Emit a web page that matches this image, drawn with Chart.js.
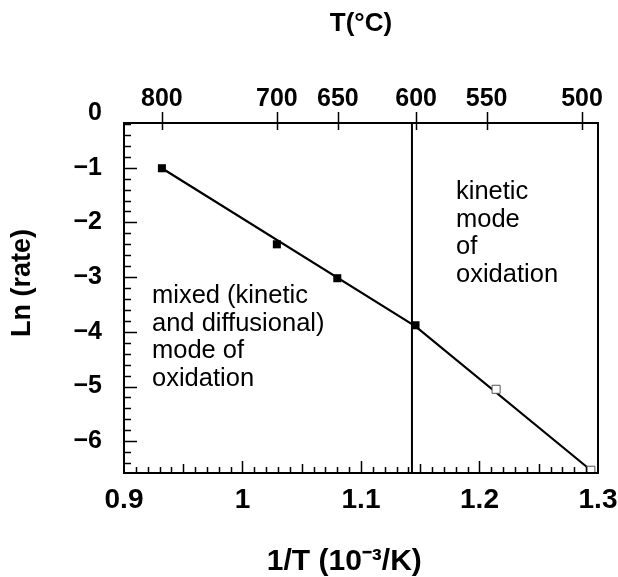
<!DOCTYPE html>
<html>
<head>
<meta charset="utf-8">
<script src="https://cdn.jsdelivr.net/npm/chart.js@4.4.1/dist/chart.umd.min.js"></script>
<style>
  html, body { margin: 0; padding: 0; background: #fff; }
  #wrap { width: 618px; height: 577px; }
</style>
</head>
<body>
<div id="wrap"><canvas id="chart" width="618" height="577"></canvas></div>
<script>
// values
const tempLabels = [800, 700, 650, 600, 550, 500];                 // top axis, T in deg C
const tempTickX = [0.932, 1.029, 1.0805, 1.1465, 1.206, 1.2865];  // where the figure puts them on 1/T
const xTicks = [0.9, 1.0, 1.1, 1.2, 1.3];
const yTicks = [0, -1, -2, -3, -4, -5, -6];
const xMin = 0.9, xMax = 1.3;
const yMin = -6.58, yMax = -0.183;

// mixed (kinetic + diffusional) regime: filled squares
const mixedX = [0.932, 1.029, 1.080, 1.146];
const mixedY = [-1.01, -2.40, -3.02, -3.88];
// kinetic regime: open squares
const kineticX = [1.214, 1.294];
const kineticY = [-5.05, -6.53];
// fitted line (two segments, kink at the regime boundary)
const fitX = [0.932, 1.146, 1.294];
const fitY = [-1.01, -3.90, -6.53];
// regime boundary
const boundaryX = 1.143;

const FONT = "'Liberation Sans', Arial, sans-serif";

const toPts = (xs, ys) => xs.map((x, i) => ({ x: x, y: ys[i] }));

// frame, inward ticks and the two text notes
const decor = {
  id: 'decor',
  afterDraw(chart) {
    const ctx = chart.ctx;
    const a = chart.chartArea;
    const sx = chart.scales.x, sy = chart.scales.y, st = chart.scales.x2;
    ctx.save();
    ctx.strokeStyle = '#000';
    ctx.lineWidth = 2;
    ctx.strokeRect(a.left, a.top, a.right - a.left, a.bottom - a.top);

    ctx.lineWidth = 1.5;
    ctx.beginPath();
    // bottom axis, every 0.01
    for (let k = 91; k < 130; k++) {
      const px = Math.round(sx.getPixelForValue(k / 100)) + 0.5;
      const len = k % 10 === 0 ? 12 : (k % 5 === 0 ? 9 : 6);
      ctx.moveTo(px, a.bottom);
      ctx.lineTo(px, a.bottom - len);
    }
    // left axis, every 0.2
    for (let k = -32; k <= -1; k++) {
      const py = Math.round(sy.getPixelForValue(k / 5)) + 0.5;
      if (py <= a.top + 1) continue;
      const len = k % 5 === 0 ? 13 : 7;
      ctx.moveTo(a.left, py);
      ctx.lineTo(a.left + len, py);
    }
    // top axis, temperature ticks cross the line
    tempTickX.forEach(v => {
      const px = Math.round(st.getPixelForValue(v)) + 0.5;
      ctx.moveTo(px, a.top - 11);
      ctx.lineTo(px, a.top + 7);
    });
    ctx.stroke();

    ctx.fillStyle = '#000';
    ctx.font = '25.5px ' + FONT;
    ctx.textBaseline = 'alphabetic';
    ctx.textAlign = 'left';
    const lh = 27.7;
    ['mixed (kinetic', 'and diffusional)', 'mode of', 'oxidation'].forEach((s, i) => {
      ctx.fillText(s, a.left + 28, 303 + i * lh);
    });
    ['kinetic', 'mode', 'of', 'oxidation'].forEach((s, i) => {
      ctx.fillText(s, a.left + 332, 199 + i * lh);
    });
    ctx.restore();
  }
};

new Chart(document.getElementById('chart'), {
  type: 'scatter',
  data: {
    datasets: [
      {
        data: toPts(mixedX, mixedY),
        pointStyle: 'rect',
        pointRadius: 5.7,
        pointBackgroundColor: '#000',
        pointBorderColor: '#000',
        pointBorderWidth: 0,
        showLine: false
      },
      {
        data: toPts(kineticX, kineticY),
        pointStyle: 'rect',
        pointRadius: 5.7,
        pointBackgroundColor: '#fff',
        pointBorderColor: '#555',
        pointBorderWidth: 1,
        showLine: false
      },
      {
        data: toPts(fitX, fitY),
        showLine: true,
        borderColor: '#000',
        borderWidth: 2.2,
        pointRadius: 0,
        tension: 0
      },
      {
        data: [{ x: boundaryX, y: yMax }, { x: boundaryX, y: yMin }],
        showLine: true,
        borderColor: '#000',
        borderWidth: 2,
        pointRadius: 0
      }
    ]
  },
  options: {
    responsive: false,
    animation: false,
    layout: { padding: { left: 0, right: 20, top: 0, bottom: 0 } },
    plugins: {
      legend: { display: false },
      tooltip: { enabled: false }
    },
    scales: {
      x: {
        type: 'linear',
        position: 'bottom',
        min: xMin,
        max: xMax,
        afterBuildTicks: s => { s.ticks = xTicks.map(v => ({ value: v })); },
        afterFit: s => { s.height = 104; s.paddingLeft = 0; s.paddingRight = 0; },
        grid: { display: false },
        border: { display: false },
        ticks: {
          color: '#000',
          font: { family: FONT, size: 28, weight: 'bold' },
          padding: 2,
          autoSkip: false,
          maxRotation: 0,
          callback: v => String(v)
        },
        title: {
          display: true,
          text: '1/T (10\u207B\u00B3/K)    ',
          color: '#000',
          font: { family: FONT, size: 30, weight: 'bold', lineHeight: 1 },
          padding: { top: 0, bottom: 0 }
        }
      },
      x2: {
        type: 'linear',
        position: 'top',
        min: xMin,
        max: xMax,
        afterBuildTicks: s => { s.ticks = tempTickX.map(v => ({ value: v })); },
        afterFit: s => { s.height = 123; s.paddingLeft = 0; s.paddingRight = 0; },
        grid: { display: false },
        border: { display: false },
        ticks: {
          color: '#000',
          font: { family: FONT, size: 25, weight: 'bold' },
          padding: 1,
          autoSkip: false,
          maxRotation: 0,
          callback: (v, i) => String(tempLabels[i])
        },
        title: {
          display: true,
          text: 'T(\u00B0C)',
          color: '#000',
          font: { family: FONT, size: 26, weight: 'bold' },
          padding: { top: 8, bottom: 0 }
        }
      },
      y: {
        type: 'linear',
        min: yMin,
        max: yMax,
        afterBuildTicks: s => { s.ticks = yTicks.map(v => ({ value: v })); },
        afterFit: s => { s.width = 124; },
        grid: { display: false },
        border: { display: false },
        ticks: {
          color: '#000',
          font: { family: FONT, size: 25, weight: 'bold' },
          padding: 14,
          autoSkip: false,
          callback: v => String(v).replace('-', '\u2212')
        },
        title: {
          display: true,
          text: '    Ln (rate)',
          color: '#000',
          font: { family: FONT, size: 27, weight: 'bold' },
          padding: { top: 6, bottom: 0 }
        }
      }
    }
  },
  plugins: [decor]
});
</script>
</body>
</html>
